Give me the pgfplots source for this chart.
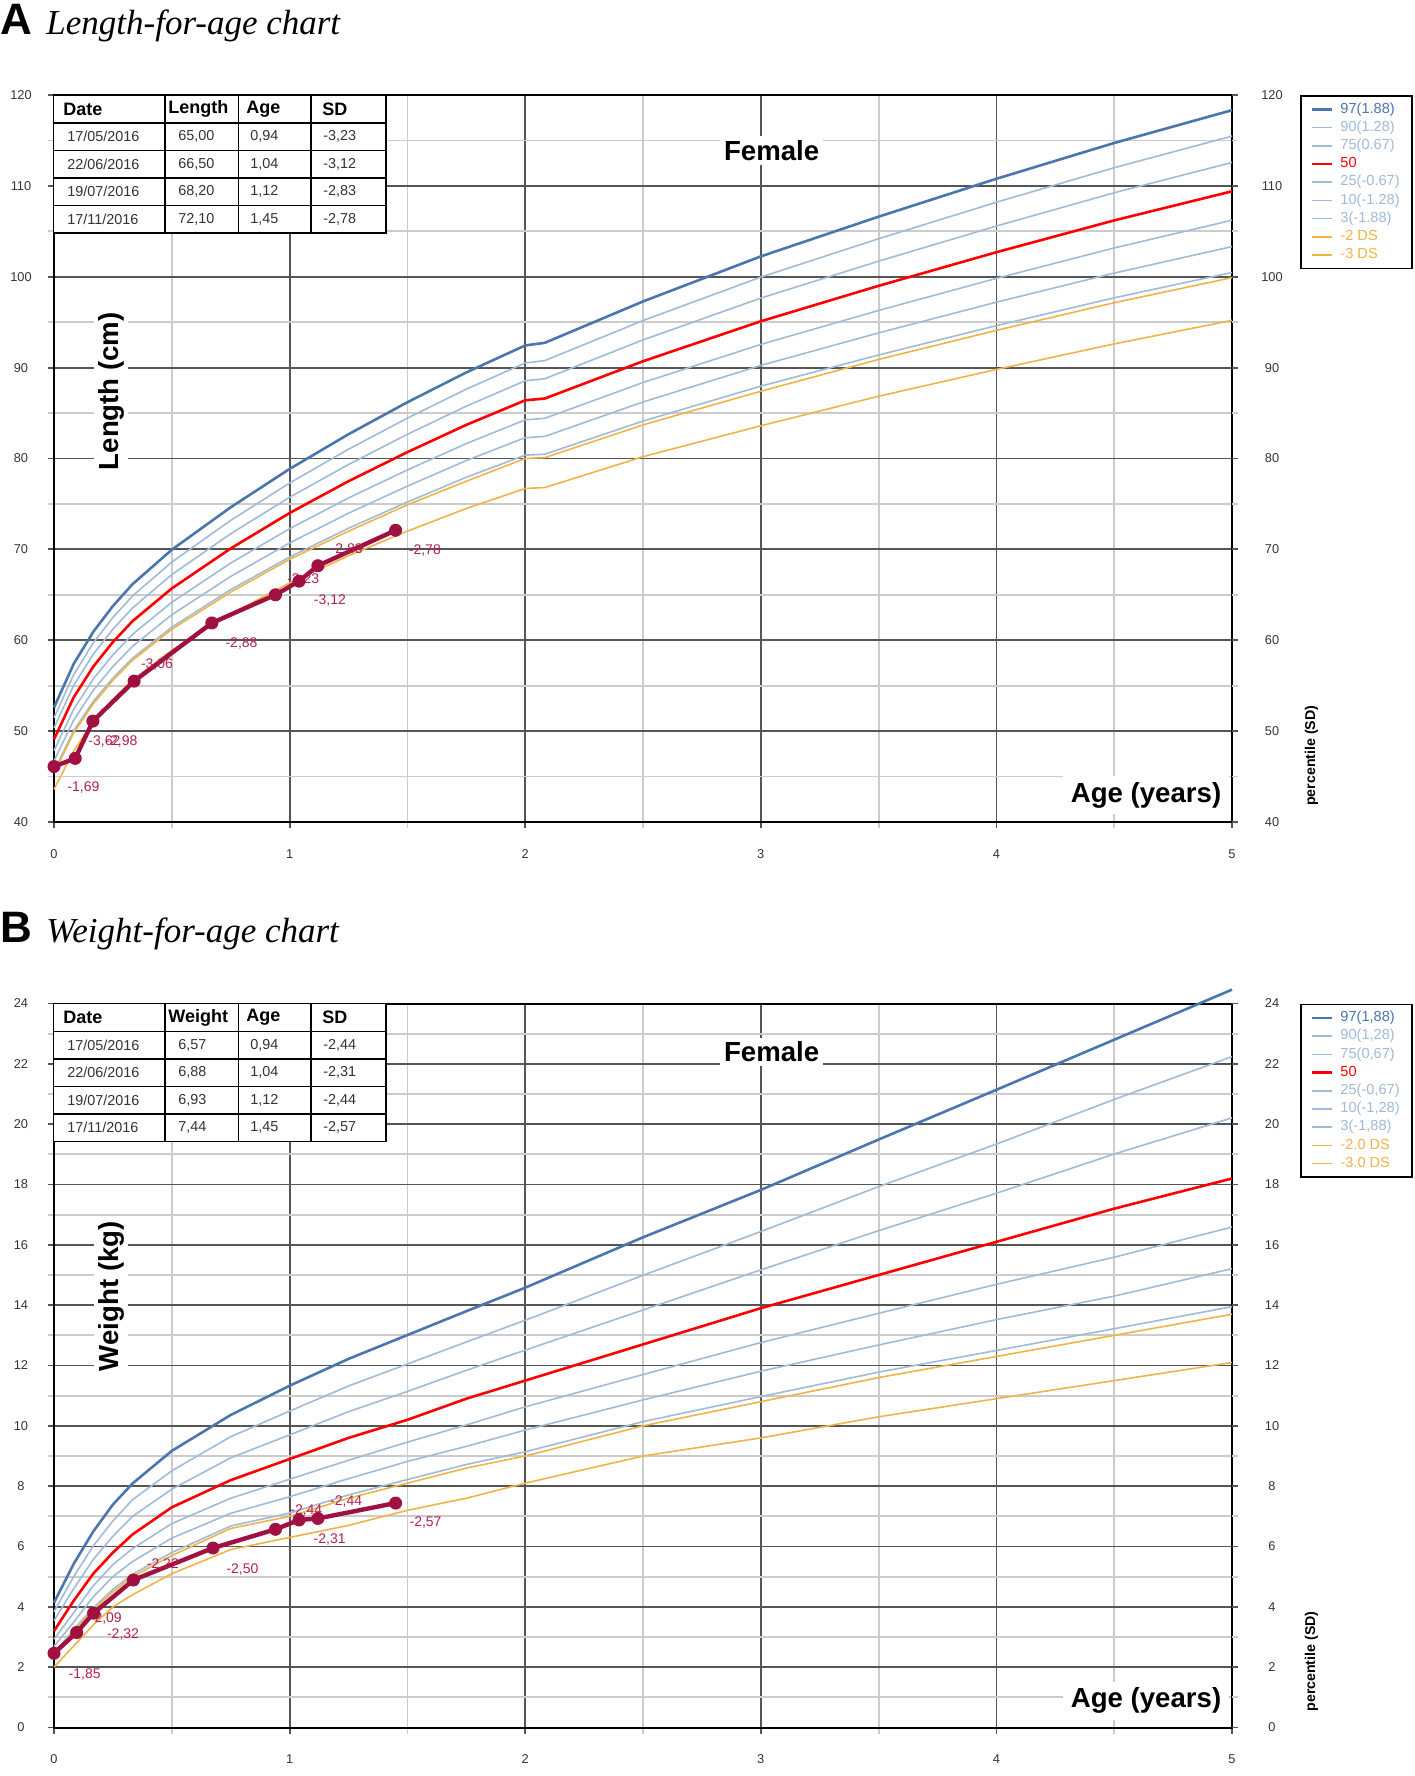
\documentclass[border=0pt]{standalone}
\usepackage{fontspec}
\setmainfont{Liberation Sans}
\newfontfamily\titlefont{Liberation Serif}
\usepackage{pgfplots}
\usepackage{pgfplotstable}
\pgfplotsset{compat=1.18}

\definecolor{p97c}{HTML}{4A76AE}
\definecolor{pblue}{HTML}{9FBBD8}
\definecolor{pred}{HTML}{FF0000}
\definecolor{porange}{HTML}{F0B446}
\definecolor{pat}{HTML}{A01040}
\definecolor{patlab}{HTML}{B4204C}
\definecolor{majgrid}{HTML}{555555}
\definecolor{mingrid}{HTML}{CCCCCC}
\definecolor{ticktext}{HTML}{333333}

% reference curves (girls), age in years
\pgfplotstableread{
age    p97    p90    p75    p50    p25    p10    p3     m2    m3
0      52.60  51.48  50.35  49.10  47.85  46.72  45.60  45.4  43.6
0.0833 57.38  56.20  55.01  53.70  52.39  51.20  50.03  49.8  47.8
0.1667 60.93  59.71  58.47  57.10  55.74  54.49  53.27  53.0  51.0
0.25   63.76  62.50  61.21  59.80  58.39  57.10  55.84  55.6  53.5
0.3333 66.17  64.87  63.55  62.10  60.65  59.33  58.03  57.8  55.6
0.5    69.96  68.60  67.22  65.70  64.18  62.80  61.44  61.2  58.9
0.75   74.63  73.19  71.72  70.10  68.49  67.02  65.57  65.3  62.9
1      78.85  77.30  75.73  74.00  72.27  70.70  69.15  68.9  66.3
1.25   82.67  81.02  79.34  77.50  75.66  73.98  72.33  72.0  69.3
1.5    86.19  84.44  82.66  80.70  78.74  76.96  75.21  74.9  72.0
1.75   89.47  87.63  85.76  83.70  81.64  79.77  77.93  77.5  74.5
2      92.44  90.51  88.55  86.40  84.25  82.29  80.37  80.0  76.7
2.0833 92.73  90.77  88.78  86.60  84.42  82.43  80.47  80.1  76.8
2.5    97.28  95.18  93.05  90.70  88.36  86.22  84.12  83.7  80.2
3      102.24 99.96  97.65  95.10  92.55  90.24  87.96  87.4  83.6
3.5    106.61 104.18 101.71 99.00  96.29  93.82  91.39  90.9  86.85
4      110.78 108.20 105.58 102.70 99.82  97.20  94.62  94.1  89.8
4.5    114.72 112.00 109.24 106.20 103.17 100.40 97.68  97.14 92.61
5      118.33 115.48 112.58 109.40 106.22 103.32 100.47 99.9  95.2
}\lenref

\pgfplotstableread{
age    p97    p90    p75    p50    p25    p10    p3     m2    m3
0      4.14   3.84   3.54   3.20   2.93   2.69   2.45   2.4   2.0
0.0833 5.42   5.00   4.60   4.20   3.80   3.49   3.25   3.2   2.7
0.1667 6.50   6.02   5.57   5.10   4.70   4.33   3.97   3.9   3.4
0.25   7.39   6.85   6.34   5.80   5.40   5.00   4.58   4.5   4.0
0.3333 8.09   7.55   7.00   6.40   5.93   5.50   5.08   5.0   4.4
0.5    9.17   8.51   7.90   7.30   6.76   6.28   5.80   5.7   5.1
0.75   10.36  9.64   8.94   8.20   7.60   7.10   6.68   6.6   5.9
1      11.33  10.49  9.70   8.90   8.23   7.65   7.11   7.0   6.3
1.25   12.22  11.32  10.47  9.60   8.86   8.25   7.71   7.6   6.7
1.5    13.01  12.05  11.14  10.20  9.46   8.82   8.22   8.1   7.2
1.75   13.80  12.78  11.84  10.90  10.03  9.32   8.72   8.6   7.6
2      14.58  13.50  12.51  11.50  10.63  9.86   9.14   9.0   8.1
2.5    16.25  14.99  13.84  12.70  11.70  10.86  10.14  10.0  9.0
3      17.82  16.44  15.17  13.90  12.76  11.81  10.97  10.8  9.6
3.5    19.49  17.93  16.47  15.00  13.73  12.68  11.78  11.6  10.3
4      21.14  19.34  17.71  16.10  14.69  13.52  12.50  12.3  10.9
4.5    22.80  20.82  19.01  17.20  15.59  14.30  13.22  13.0  11.5
5      24.46  22.24  20.21  18.20  16.59  15.21  13.95  13.7  12.1
}\wtref

\tikzset{big/.style={font=\bfseries\fontsize{13.8}{15}\selectfont}}

\pgfplotsset{
  growth/.style={
    scale only axis, width=589pt, anchor=north west, clip=false,
    xmin=0, xmax=5, xtick={0,1,2,3,4,5}, minor xtick={0.5,1.5,2.5,3.5,4.5},
    grid=both,
    major grid style={majgrid, line width=0.9pt},
    minor grid style={mingrid, line width=0.9pt},
    axis line style={black, line width=1pt},
    tick align=outside, xtick pos=bottom, ytick pos=left,
    major tick length=3pt, minor tick length=3pt,
    major tick style={majgrid, line width=0.9pt},
    minor tick style={mingrid, line width=0.9pt},
    tick label style={font=\fontsize{6.4}{7}\selectfont, text=ticktext},
    /pgf/number format/assume math mode=true,
    xticklabel style={anchor=center, yshift=-13pt},
    yticklabel style={anchor=center, xshift=-13.5pt},
    legend cell align=left,
    legend image code/.code={\draw[##1] (0pt,0pt) -- (10pt,0pt);},
    legend style={at={(1.0577,1)}, anchor=north west, draw=black,
      line width=0.9pt, fill=white, font=\fontsize{7.3}{8}\selectfont,
      inner xsep=5pt, inner ysep=2.2pt, row sep=0pt, column sep=2.5pt,
      nodes={inner sep=1pt, text height=5.4pt, text depth=1.7pt}},
  },
  rightlabels/.style={
    scale only axis, width=589pt, anchor=north west,
    xmin=0, xmax=5, axis x line=none, axis y line*=right,
    axis line style={draw=none},
    tick align=outside, major tick length=3pt, minor tick length=3pt,
    major tick style={majgrid, line width=0.9pt},
    minor tick style={mingrid, line width=0.9pt},
    tick label style={font=\fontsize{6.4}{7}\selectfont, text=ticktext},
    /pgf/number format/assume math mode=true,
    yticklabel style={anchor=center, xshift=17pt},
  },
  sdlabels/.style={draw=none, forget plot,
    nodes near coords={\pgfplotspointmeta}, point meta=explicit symbolic,
    nodes near coords align={center},
    every node near coord/.append style={anchor=center, inner sep=0pt,
      font=\fontsize{7}{8}\selectfont, text=patlab}},
  patient/.style={pat, line width=2.2pt, mark=*, mark size=3pt,
    mark options={fill=pat, draw=pat, line width=0.5pt}, forget plot},
}

\newcommand{\hdfont}{\bfseries\fontsize{9}{10}\selectfont}
\newcommand{\dtfont}{\fontsize{7.2}{8}\selectfont\color{ticktext}}
\newcommand{\tframe}{%
  \draw[line width=0.9pt, fill=white] (26.75pt,0pt) rectangle (193pt,-69pt);
  \foreach \yy in {14,27.75,41.5,55.25} \draw[line width=0.9pt] (26.75pt,-\yy pt) -- (193pt,-\yy pt);
  \foreach \xx in {82.5,119.25,155.5} \draw[line width=0.9pt] (\xx pt,0pt) -- (\xx pt,-69pt);
}
\newcommand{\thead}[1]{%
  \node[anchor=west, inner sep=0pt, font=\hdfont] at (31.5pt,-7pt) {Date};
  \node[anchor=west, inner sep=0pt, font=\hdfont] at (84pt,-7pt) {#1};
  \node[anchor=west, inner sep=0pt, font=\hdfont] at (123pt,-7pt) {Age};
  \node[anchor=west, inner sep=0pt, font=\hdfont] at (161pt,-7pt) {SD};
}
\newcommand{\trow}[5]{%
  \node[anchor=west, inner sep=0pt, font=\dtfont] at (33.5pt,{-14pt-13.75pt*(#1-0.5)}) {#2};
  \node[anchor=west, inner sep=0pt, font=\dtfont] at (89pt,{-14pt-13.75pt*(#1-0.5)}) {#3};
  \node[anchor=west, inner sep=0pt, font=\dtfont] at (125pt,{-14pt-13.75pt*(#1-0.5)}) {#4};
  \node[anchor=west, inner sep=0pt, font=\dtfont] at (161.5pt,{-14pt-13.75pt*(#1-0.5)}) {#5};
}

\begin{document}
\begin{tikzpicture}
\useasboundingbox (0pt,0pt) rectangle (707pt,-888pt);

% ---------------- A: length ----------------
\node[anchor=base west, inner sep=0pt, font=\bfseries\fontsize{22}{24}\selectfont] at (0pt,-17.5pt) {A};
\node[anchor=base west, inner sep=0pt, font=\titlefont\itshape\fontsize{17.5}{19}\selectfont] at (23pt,-17.5pt) {Length-for-age chart};

\begin{axis}[growth, at={(27pt,-47.5pt)}, height=363.5pt,
  ymin=40, ymax=120, ytick={40,50,...,120}, minor ytick={45,55,...,115}]
  \addplot[sdlabels] table[meta=lab] {
x     y     lab
0.125 43.82 -1,69
0.214 48.85 -3,62
0.286 48.85 -2,98
0.437 57.3  -3,06
0.796 59.6  -2,88
1.058 66.7  -3,23
1.171 64.4  -3,12
1.242 70.0  -2,83
1.574 69.9  -2,78
  };
  \addplot[p97c, line width=1.3pt] table[x=age, y=p97] {\lenref};
  \addlegendentry[text=p97c]{97(1.88)}
  \addplot[pblue, line width=0.8pt] table[x=age, y=p90] {\lenref};
  \addlegendentry[text=pblue]{90(1.28)}
  \addplot[pblue, line width=0.8pt] table[x=age, y=p75] {\lenref};
  \addlegendentry[text=pblue]{75(0.67)}
  \addplot[pred, line width=1.3pt] table[x=age, y=p50] {\lenref};
  \addlegendentry[text=pred]{50}
  \addplot[pblue, line width=0.8pt] table[x=age, y=p25] {\lenref};
  \addlegendentry[text=pblue]{25(-0.67)}
  \addplot[pblue, line width=0.8pt] table[x=age, y=p10] {\lenref};
  \addlegendentry[text=pblue]{10(-1.28)}
  \addplot[pblue, line width=0.8pt] table[x=age, y=p3] {\lenref};
  \addlegendentry[text=pblue]{3(-1.88)}
  \addplot[porange, line width=0.8pt] table[x=age, y=m2] {\lenref};
  \addlegendentry[text=porange]{-2 DS}
  \addplot[porange, line width=0.8pt] table[x=age, y=m3] {\lenref};
  \addlegendentry[text=porange]{-3 DS}
  \addplot[patient] coordinates {
    (0,46.1) (0.09,47.0) (0.165,51.1) (0.34,55.5) (0.67,61.9)
    (0.94,65.0) (1.04,66.5) (1.12,68.2) (1.45,72.1)
  };
  \node[big, fill=white, inner sep=2pt] at (axis cs:3.046,113.9) {Female};
  \node[big, fill=white, inner sep=2pt, rotate=90] at (axis cs:0.242,87.4) {Length (cm)};
  \node[big, fill=white, anchor=east, inner xsep=4pt, inner ysep=3pt] at (axis cs:4.99,42.93) {Age (years)};
  \node[rotate=90, font=\bfseries\fontsize{7.1}{8}\selectfont] at (axis cs:5.337,47.3) {percentile (SD)};
\end{axis}
\begin{axis}[rightlabels, at={(27pt,-47.5pt)}, height=363.5pt,
  ymin=40, ymax=120, ytick={40,50,...,120}, minor ytick={45,55,...,115}]
\end{axis}

\begin{scope}[shift={(0pt,-47.5pt)}]
  \tframe
  \thead{Length}
  \trow{1}{17/05/2016}{65,00}{0,94}{-3,23}
  \trow{2}{22/06/2016}{66,50}{1,04}{-3,12}
  \trow{3}{19/07/2016}{68,20}{1,12}{-2,83}
  \trow{4}{17/11/2016}{72,10}{1,45}{-2,78}
\end{scope}

% ---------------- B: weight ----------------
\node[anchor=base west, inner sep=0pt, font=\bfseries\fontsize{22}{24}\selectfont] at (0pt,-471pt) {B};
\node[anchor=base west, inner sep=0pt, font=\titlefont\itshape\fontsize{17.5}{19}\selectfont] at (23pt,-471pt) {Weight-for-age chart};

\begin{axis}[growth, at={(27pt,-501.75pt)}, height=362pt,
  ymin=0, ymax=24, ytick={0,2,...,24}, minor ytick={1,3,...,23}]
  \addplot[sdlabels] table[meta=lab] {
x     y     lab
0.130 1.77  -1,85
0.220 3.63  -2,09
0.293 3.08  -2,32
0.462 5.41  -2,22
0.800 5.25  -2,50
1.071 7.18  -2,44
1.170 6.22  -2,31
1.240 7.50  -2,44
1.577 6.78  -2,57
  };
  \addplot[p97c, line width=1.3pt] table[x=age, y=p97] {\wtref};
  \addlegendentry[text=p97c]{97(1,88)}
  \addplot[pblue, line width=0.8pt] table[x=age, y=p90] {\wtref};
  \addlegendentry[text=pblue]{90(1,28)}
  \addplot[pblue, line width=0.8pt] table[x=age, y=p75] {\wtref};
  \addlegendentry[text=pblue]{75(0,67)}
  \addplot[pred, line width=1.3pt] table[x=age, y=p50] {\wtref};
  \addlegendentry[text=pred]{50}
  \addplot[pblue, line width=0.8pt] table[x=age, y=p25] {\wtref};
  \addlegendentry[text=pblue]{25(-0,67)}
  \addplot[pblue, line width=0.8pt] table[x=age, y=p10] {\wtref};
  \addlegendentry[text=pblue]{10(-1,28)}
  \addplot[pblue, line width=0.8pt] table[x=age, y=p3] {\wtref};
  \addlegendentry[text=pblue]{3(-1,88)}
  \addplot[porange, line width=0.8pt] table[x=age, y=m2] {\wtref};
  \addlegendentry[text=porange]{-2.0 DS}
  \addplot[porange, line width=0.8pt] table[x=age, y=m3] {\wtref};
  \addlegendentry[text=porange]{-3.0 DS}
  \addplot[patient] coordinates {
    (0,2.46) (0.096,3.15) (0.168,3.79) (0.337,4.89) (0.675,5.95)
    (0.94,6.57) (1.04,6.88) (1.12,6.93) (1.45,7.44)
  };
  \node[big, fill=white, inner sep=2pt] at (axis cs:3.046,22.39) {Female};
  \node[big, fill=white, inner sep=2pt, rotate=90] at (axis cs:0.242,14.3) {Weight (kg)};
  \node[big, fill=white, anchor=east, inner xsep=4pt, inner ysep=3pt] at (axis cs:4.99,0.89) {Age (years)};
  \node[rotate=90, font=\bfseries\fontsize{7.1}{8}\selectfont] at (axis cs:5.337,2.19) {percentile (SD)};
\end{axis}
\begin{axis}[rightlabels, at={(27pt,-501.75pt)}, height=362pt,
  ymin=0, ymax=24, ytick={0,2,...,24}, minor ytick={1,3,...,23}]
\end{axis}

\begin{scope}[shift={(0pt,-501.75pt)}]
  \tframe
  \thead{Weight}
  \trow{1}{17/05/2016}{6,57}{0,94}{-2,44}
  \trow{2}{22/06/2016}{6,88}{1,04}{-2,31}
  \trow{3}{19/07/2016}{6,93}{1,12}{-2,44}
  \trow{4}{17/11/2016}{7,44}{1,45}{-2,57}
\end{scope}

\end{tikzpicture}
\end{document}
